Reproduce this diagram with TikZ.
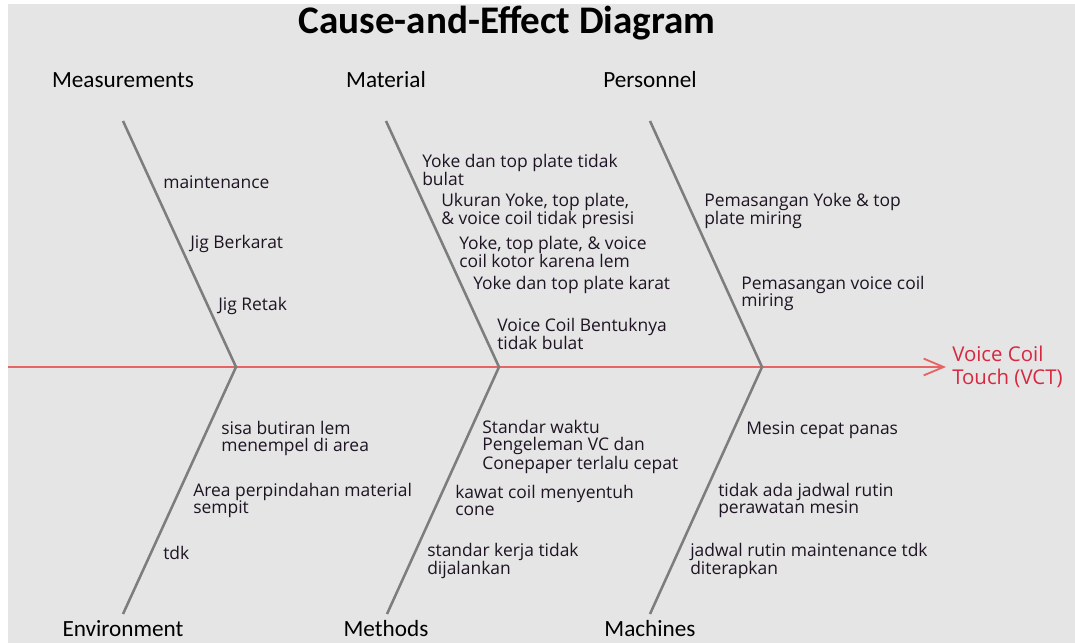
\documentclass[tikz,border=0pt]{standalone}
\usepackage{fontspec}
\setmainfont{Open Sans}
\newfontfamily\headfont{Carlito}
\usetikzlibrary{arrows.meta}
\definecolor{bggray}{RGB}{229,229,229}
\definecolor{bonegray}{RGB}{125,125,125}
\definecolor{spinered}{RGB}{230,100,100}
\definecolor{effectred}{RGB}{214,40,64}
\definecolor{causeink}{RGB}{30,20,35}

\begin{document}
\begin{tikzpicture}[x=0.025cm,y=-0.025cm,
		bone/.style={draw=bonegray,line width=1.8pt},
		spine/.style={draw=spinered,line width=1.5pt,shorten >=0.15cm,-{Straight Barb[length=5mm,width=4.2mm,line width=1.3pt]}},
		cat node/.style={font=\headfont\fontsize{16.5}{19}\selectfont,inner sep=0pt},
		cause/.style={anchor=west,align=left,inner sep=0pt,text=causeink,font=\fontsize{12.4}{12.1}\selectfont},
		effect/.style={anchor=west,align=left,inner sep=0pt,text=effectred,font=\fontsize{14.5}{16.3}\selectfont}]
		
		% background
		\fill[white] (0,0) rectangle (1075,643);
		\fill[bggray] (8,4) rectangle (1075,643);
		\useasboundingbox (0,0) rectangle (1075,643);
		
		\node[font=\headfont\bfseries\fontsize{27.8}{32}\selectfont] (title) at (507,23) {Cause-and-Effect Diagram};
		
		% bone ends and joints on the spine
		\coordinate (t1) at (123,121); \coordinate (j1) at (236,367); \coordinate (b1) at (123,614);
		\coordinate (t2) at (386,121); \coordinate (j2) at (499,367); \coordinate (b2) at (387,614);
		\coordinate (t3) at (650,121); \coordinate (j3) at (762,367); \coordinate (b3) at (650,614);
		\coordinate (tail) at (8,367);
		
		% categories
		\node[cat node] (meas) at (123,80) {Measurements};
		\node[cat node] (mat) at (386,80) {Material};
		\node[cat node] (pers) at (650,80) {Personnel};
		\node[cat node] (env) at (123,629) {Environment};
		\node[cat node] (meth) at (386,629) {Methods};
		\node[cat node] (mach) at (650,629) {Machines};
		
		% effect
		\node[effect] (vct) at (952,367) {Voice Coil\\Touch (VCT)};
		
		\path[spine] (tail) -- (vct.west);
		\path[bone] (t1) -- (j1) -- (b1);
		\path[bone] (t2) -- (j2) -- (b2);
		\path[bone] (t3) -- (j3) -- (b3);
		
		% causes: measurements
		\node[cause] (m1) at (163,182) {maintenance};
		\node[cause] (m2) at (190,244) {Jig Berkarat};
		\node[cause] (m3) at (218,306) {Jig Retak};
		% material
		\node[cause] (a1) at (422,170) {Yoke dan top plate tidak\\bulat};
		\node[cause] (a2) at (441,211) {Ukuran Yoke, top plate,\\\& voice coil tidak presisi};
		\node[cause] (a3) at (459,252) {Yoke, top plate, \& voice\\coil kotor karena lem};
		\node[cause] (a4) at (473,285) {Yoke dan top plate karat};
		\node[cause] (a5) at (497,334) {Voice Coil Bentuknya\\tidak bulat};
		% personnel
		\node[cause] (p1) at (704,211) {Pemasangan Yoke \& top\\plate miring};
		\node[cause] (p2) at (741,293) {Pemasangan voice coil\\miring};
		% environment
		\node[cause] (e1) at (221,438) {sisa butiran lem\\menempel di area};
		\node[cause] (e2) at (193,500) {Area perpindahan material\\sempit};
		\node[cause] (e3) at (163,553) {tdk};
		% methods
		\node[cause] (d1) at (482,447) {Standar waktu\\Pengeleman VC dan\\Conepaper terlalu cepat};
		\node[cause] (d2) at (455,500) {kawat coil menyentuh\\cone};
		\node[cause] (d3) at (427,561) {standar kerja tidak\\dijalankan};
		% machines
		\node[cause] (c1) at (746,430) {Mesin cepat panas};
		\node[cause] (c2) at (718,500) {tidak ada jadwal rutin\\perawatan mesin};
		\node[cause] (c3) at (690,561) {jadwal rutin maintenance tdk\\diterapkan};
\end{tikzpicture}
\end{document}
